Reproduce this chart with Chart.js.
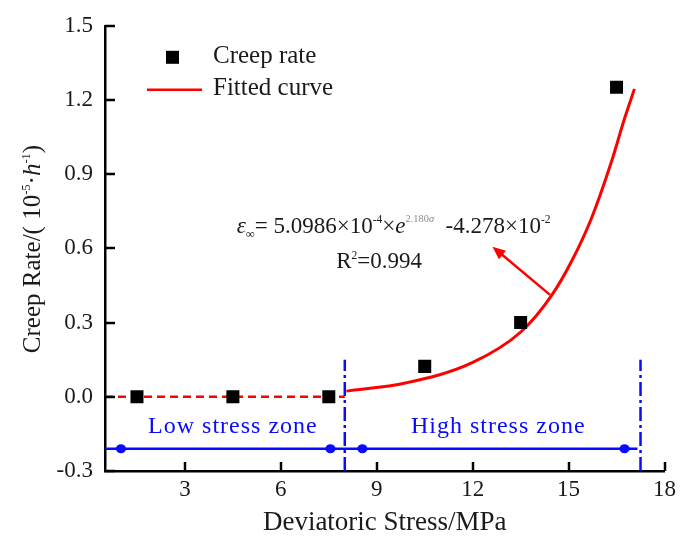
<!DOCTYPE html>
<html>
<head>
<meta charset="utf-8">
<script src="https://cdn.jsdelivr.net/npm/chart.js@4.4.1/dist/chart.umd.min.js"></script>
<style>
  html, body { margin: 0; padding: 0; background: #fff; }
  #wrap { width: 681px; height: 545px; }
</style>
</head>
<body>
<div id="wrap"><canvas id="c" width="681" height="545"></canvas></div>
<script>
// Measured creep rates at each deviatoric stress level
const stressMPa = [1.5, 4.5, 7.5, 10.5, 13.5, 16.5];
const creepRate = [0, 0, 0, 0.123, 0.30, 1.252];

// Fitted exponential curve (high stress zone), sampled along the drawn line
const fitStress = [8.05, 9.9, 11.97, 13.53, 14.47, 15.09, 15.71, 16.34, 16.75, 17.06];
const fitRate   = [0.023, 0.056, 0.137, 0.265, 0.41, 0.547, 0.72, 0.95, 1.125, 1.245];

// Zero-rate dashed segment in the low stress zone
const lowStress = [0.5, 8];
const lowRate   = [0, 0];

// Axis ticks
const xTicks = [3, 6, 9, 12, 15, 18];
const yTicks = [-0.3, 0.0, 0.3, 0.6, 0.9, 1.2, 1.5];

// Zone boundaries (MPa) and zone labels
const zoneBounds = [8, 17.25];
const zoneNames = ['Low stress zone', 'High stress zone'];
const zoneLabelX = [4.5, 12.8];
const zoneArrowX = [[1.0, 7.55], [8.55, 16.75]];

// Annotation anchors in data units
const notes = {
  eqAt: [4.62, 0.664],
  r2At: [7.73, 0.519],
  arrowFrom: [14.42, 0.412],
  arrowTo: [12.62, 0.607],
  zoneLabelY: -0.12,
  bracketY: -0.21,
  zoneTop: 0.15
};

const SERIF = '"Liberation Serif", "Times New Roman", serif';
const BLUE = '#0a0aff';
const RED = '#ff0000';

function toPts(xs, ys) { return xs.map((x, i) => ({ x: x, y: ys[i] })); }

// Draws a run of text pieces with individual size, offset, style and colour
function richText(ctx, parts, x, y, base, align) {
  const fontOf = p => (p.it ? 'italic ' : '') + Math.round(base * (p.s || 1) * 10) / 10 + 'px ' + SERIF;
  let w = 0;
  parts.forEach(p => { ctx.font = fontOf(p); w += ctx.measureText(p.t).width; });
  let cx = align === 'center' ? x - w / 2 : x;
  ctx.textAlign = 'left';
  ctx.textBaseline = 'alphabetic';
  parts.forEach(p => {
    ctx.font = fontOf(p);
    ctx.fillStyle = p.c || '#1a1a1a';
    ctx.fillText(p.t, cx, y + (p.dy || 0) * base);
    cx += ctx.measureText(p.t).width;
  });
}

function arrowHead(ctx, tx, ty, ang, len, hw) {
  ctx.beginPath();
  ctx.moveTo(tx, ty);
  ctx.lineTo(tx - len * Math.cos(ang) + hw * Math.sin(ang), ty - len * Math.sin(ang) - hw * Math.cos(ang));
  ctx.lineTo(tx - len * Math.cos(ang) - hw * Math.sin(ang), ty - len * Math.sin(ang) + hw * Math.cos(ang));
  ctx.closePath();
  ctx.fill();
}

const decor = {
  id: 'decor',
  beforeDatasetsDraw(chart) {
    const ctx = chart.ctx, xs = chart.scales.x, ys = chart.scales.y, a = chart.chartArea;
    ctx.save();
    // zone boundaries (dash-dot)
    ctx.strokeStyle = BLUE;
    ctx.lineWidth = 2.5;
    ctx.setLineDash([14, 4, 3, 4]);
    zoneBounds.forEach(b => {
      const px = xs.getPixelForValue(b);
      ctx.beginPath();
      ctx.moveTo(px, a.bottom);
      ctx.lineTo(px, ys.getPixelForValue(notes.zoneTop));
      ctx.stroke();
    });
    // zone extent line with blunt arrow heads
    ctx.setLineDash([]);
    const by = ys.getPixelForValue(notes.bracketY);
    ctx.beginPath();
    ctx.moveTo(a.left, by);
    ctx.lineTo(xs.getPixelForValue(zoneBounds[1]) - 3, by);
    ctx.stroke();
    ctx.fillStyle = BLUE;
    zoneArrowX.forEach(pair => {
      const l = xs.getPixelForValue(pair[0]), r = xs.getPixelForValue(pair[1]);
      arrowHead(ctx, l - 8, by, Math.PI, 10, 3.5);
      arrowHead(ctx, r + 8, by, 0, 10, 3.5);
      ctx.beginPath(); ctx.ellipse(l, by, 5, 4.5, 0, 0, Math.PI * 2); ctx.fill();
      ctx.beginPath(); ctx.ellipse(r, by, 5, 4.5, 0, 0, Math.PI * 2); ctx.fill();
    });
    // zone labels
    ctx.font = '24px ' + SERIF;
    ctx.textAlign = 'center';
    ctx.textBaseline = 'middle';
    ctx.letterSpacing = '1px';
    zoneNames.forEach((n, i) => {
      ctx.fillText(n, xs.getPixelForValue(zoneLabelX[i]), ys.getPixelForValue(notes.zoneLabelY));
    });
    ctx.letterSpacing = '0px';
    ctx.restore();
  },
  afterDraw(chart) {
    const ctx = chart.ctx, xs = chart.scales.x, ys = chart.scales.y, a = chart.chartArea;
    ctx.save();
    // inward tick marks
    ctx.strokeStyle = '#000';
    ctx.lineWidth = 2.5;
    xTicks.forEach(v => {
      const px = Math.round(xs.getPixelForValue(v));
      ctx.beginPath(); ctx.moveTo(px, a.bottom); ctx.lineTo(px, a.bottom - 9); ctx.stroke();
    });
    yTicks.forEach(v => {
      const py = Math.round(ys.getPixelForValue(v));
      ctx.beginPath(); ctx.moveTo(a.left, py); ctx.lineTo(a.left + 10, py); ctx.stroke();
    });

    // legend
    ctx.fillStyle = '#000';
    ctx.fillRect(a.left + 61, a.top + 25, 13, 13);
    ctx.strokeStyle = RED;
    ctx.lineWidth = 2.5;
    ctx.beginPath(); ctx.moveTo(a.left + 42, a.top + 64); ctx.lineTo(a.left + 97, a.top + 64); ctx.stroke();
    ctx.font = '25px ' + SERIF;
    ctx.fillStyle = '#1a1a1a';
    ctx.textAlign = 'left';
    ctx.textBaseline = 'middle';
    ctx.fillText('Creep rate', a.left + 108, a.top + 31);
    ctx.fillText('Fitted curve', a.left + 108, a.top + 63);

    // fit equation and goodness of fit
    const eqX = xs.getPixelForValue(notes.eqAt[0]), eqY = ys.getPixelForValue(notes.eqAt[1]);
    richText(ctx, [
      { t: 'ε', it: true },
      { t: '∞', s: 0.55, dy: 0.22 },
      { t: '= 5.0986×10' },
      { t: '-4', s: 0.5, dy: -0.42 },
      { t: '×' },
      { t: 'e', it: true },
      { t: '2.180', s: 0.45, dy: -0.45, c: '#8a8a8a' },
      { t: 'σ', s: 0.45, dy: -0.45, c: '#8a8a8a', it: true },
      { t: '  -4.278×10' },
      { t: '-2', s: 0.5, dy: -0.42 }
    ], eqX, eqY, 23, 'left');
    const r2X = xs.getPixelForValue(notes.r2At[0]), r2Y = ys.getPixelForValue(notes.r2At[1]);
    richText(ctx, [
      { t: 'R' }, { t: '2', s: 0.5, dy: -0.42 }, { t: '=0.994' }
    ], r2X, r2Y, 23, 'left');

    // pointer from curve to equation
    const fx = xs.getPixelForValue(notes.arrowFrom[0]), fy = ys.getPixelForValue(notes.arrowFrom[1]);
    const tx = xs.getPixelForValue(notes.arrowTo[0]), ty = ys.getPixelForValue(notes.arrowTo[1]);
    const ang = Math.atan2(ty - fy, tx - fx);
    ctx.strokeStyle = RED;
    ctx.fillStyle = RED;
    ctx.lineWidth = 2.5;
    ctx.beginPath(); ctx.moveTo(fx, fy); ctx.lineTo(tx - 6 * Math.cos(ang), ty - 6 * Math.sin(ang)); ctx.stroke();
    arrowHead(ctx, tx, ty, ang, 13, 5.5);

    // axis titles
    richText(ctx, [{ t: 'Deviatoric Stress/MPa' }], (a.left + a.right) / 2, 530, 27, 'center');
    ctx.translate(32, 249);
    ctx.rotate(-Math.PI / 2);
    richText(ctx, [
      { t: 'Creep Rate/( 10' },
      { t: '-5', s: 0.5, dy: -0.42 },
      { t: '·' },
      { t: 'h', it: true },
      { t: '-1', s: 0.5, dy: -0.42 },
      { t: ')' }
    ], 0, 8, 25, 'center');
    ctx.restore();
  }
};

new Chart(document.getElementById('c'), {
  type: 'scatter',
  data: {
    datasets: [
      {
        label: 'Creep rate',
        data: toPts(stressMPa, creepRate),
        pointStyle: 'rect',
        pointRadius: 9.2,
        pointHoverRadius: 9.2,
        backgroundColor: '#000',
        borderColor: '#000',
        borderWidth: 0,
        showLine: false
      },
      {
        label: 'Fitted curve',
        data: toPts(fitStress, fitRate),
        showLine: true,
        borderColor: RED,
        borderWidth: 3,
        pointRadius: 0,
        cubicInterpolationMode: 'monotone',
        fill: false
      },
      {
        label: 'Low stress',
        data: toPts(lowStress, lowRate),
        showLine: true,
        borderColor: RED,
        borderWidth: 2.5,
        borderDash: [8, 5],
        pointRadius: 0,
        fill: false
      }
    ]
  },
  options: {
    responsive: false,
    animation: false,
    devicePixelRatio: 1,
    layout: { padding: { top: 23, right: 14, left: 0, bottom: 0 } },
    plugins: { legend: { display: false }, tooltip: { enabled: false } },
    scales: {
      x: {
        type: 'linear',
        min: 0.5,
        max: 18,
        afterBuildTicks: s => { s.ticks = xTicks.map(v => ({ value: v })); },
        afterFit: s => { s.height = 74; },
        grid: { display: false, drawTicks: false },
        border: { display: true, color: '#000', width: 2.5 },
        ticks: {
          padding: 5,
          color: '#1a1a1a',
          font: { family: SERIF, size: 23 },
          maxRotation: 0,
          callback: v => String(v)
        }
      },
      y: {
        type: 'linear',
        min: -0.3,
        max: 1.5,
        afterBuildTicks: s => { s.ticks = yTicks.map(v => ({ value: v })); },
        afterFit: s => { s.width = 105; },
        grid: { display: false, drawTicks: false },
        border: { display: true, color: '#000', width: 2.5 },
        ticks: {
          padding: 12,
          color: '#1a1a1a',
          font: { family: SERIF, size: 23 },
          callback: v => Number(v).toFixed(1)
        }
      }
    }
  },
  plugins: [decor]
});
</script>
</body>
</html>
